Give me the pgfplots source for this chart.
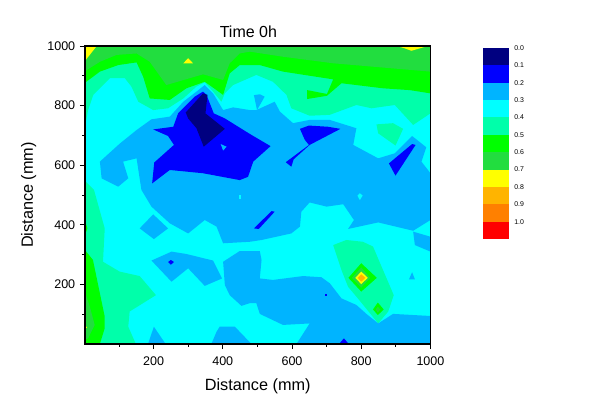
\documentclass[border=0pt]{standalone}
\usepackage{fontspec}
\setmainfont{Liberation Sans}
\usepackage{pgfplots}
\pgfplotsset{compat=1.18}
\definecolor{cNavy}{HTML}{000080}
\definecolor{cBlue}{HTML}{0000FF}
\definecolor{cAzure}{HTML}{00B4FF}
\definecolor{cCyan}{HTML}{00FFFF}
\definecolor{cSpring}{HTML}{00FFAA}
\definecolor{cGreen}{HTML}{00FF00}
\definecolor{cDark}{HTML}{22DD3F}
\definecolor{cYellow}{HTML}{FFFF00}
\definecolor{cAmber}{HTML}{FFB400}
\definecolor{cOrange}{HTML}{FF8000}
\definecolor{cRed}{HTML}{FF0000}
\begin{document}
\begin{tikzpicture}
\path[use as bounding box] (0,0) rectangle (455.25pt,313.5pt);
\begin{axis}[
  at={(63.75pt,55.5pt)}, anchor=south west,
  scale only axis, width=259.1pt, height=223.5pt,
  xmin=2, xmax=1000, ymin=0, ymax=1000,
  axis on top,
  tick pos=left,
  axis line style={line width=1pt},
  xtick={200,400,600,800,1000}, ytick={200,400,600,800,1000},
  minor xtick={100,300,500,700,900}, minor ytick={100,300,500,700,900},
  tick align=outside, tick style={black, line width=0.6pt},
  major tick length=3.8pt, minor tick length=2.2pt,
  /pgf/number format/assume math mode=true,
  /pgf/number format/1000 sep={},
  tick label style={font=\fontsize{9.4}{11}\selectfont},
  xticklabel style={yshift=-2.5pt},
  xlabel={Distance (mm)}, ylabel={Distance (mm)},
  xlabel style={yshift=-2.5pt},
  ylabel style={yshift=1.5pt},
  label style={font=\fontsize{12.2}{14}\selectfont},
  title={Time 0h},
  title style={font=\fontsize{12}{14}\selectfont, at={(axis description cs:0.473,1)}, yshift=-3pt},
  clip=true,
]
% base level 0.3-0.4
\addplot[fill=cCyan,draw=none] coordinates {(0,0)(1000,0)(1000,1000)(0,1000)} --cycle;
% 0.4-0.5
\addplot[fill=cSpring,draw=none] coordinates {(0,718)(11,785)(26,836)(74,892)(117,892)(136,864)(156,813)(199,785)(242,791)(286,824)(324,864)(348,878)(372,847)(396,813)(406,841)(430,869)(497,903)(545,880)(584,836)(598,791)(651,766)(709,769)(786,802)(830,791)(897,802)(950,735)(1000,774)(1000,1000)(0,1000)} --cycle;
\addplot[fill=cSpring,draw=none] coordinates {(0,550)(28,517)(59,388)(54,276)(102,243)(160,228)(207,164)(131,109)(127,58)(149,0)(0,0)} --cycle;
\addplot[fill=cSpring,draw=none] coordinates {(719,332)(757,349)(805,343)(834,327)(894,164)(878,109)(849,69)(810,125)(786,159)(762,192)(743,248)} --cycle;
\addplot[fill=cSpring,draw=none] coordinates {(844,737)(892,741)(921,722)(899,666)(849,707)} --cycle;
% 0.5-0.6
\addplot[fill=cGreen,draw=none] coordinates {(0,875)(45,914)(98,936)(151,945)(170,897)(189,824)(247,819)(295,858)(348,880)(401,836)(420,908)(449,936)(478,936)(507,936)(574,914)(719,888)(701,839)(644,852)(644,822)(701,833)(743,875)(863,858)(940,852)(1000,841)(1000,1000)(0,1000)} --cycle;
\addplot[fill=cGreen,draw=none] coordinates {(0,422)(9,388)(0,360)} --cycle;
\addplot[fill=cGreen,draw=none] coordinates {(0,318)(25,282)(40,198)(59,92)(59,53)(45,0)(0,0)} --cycle;
\addplot[fill=cGreen,draw=none] coordinates {(800,271)(845,222)(800,176)(763,222)} --cycle;
\addplot[fill=cGreen,draw=none] coordinates {(848,139)(865,116)(848,97)(834,116)} --cycle;
% 0.6-0.7
\addplot[fill=cDark,draw=none] coordinates {(0,914)(45,947)(93,970)(151,975)(189,947)(237,869)(343,905)(401,886)(420,942)(449,975)(478,981)(574,964)(719,942)(1000,914)(1000,1000)(0,1000)} --cycle;
\addplot[fill=cDark,draw=none] coordinates {(0,181)(16,125)(30,64)(11,19)(0,13)} --cycle;
\addplot[fill=cDark,draw=none] coordinates {(800,257)(826,222)(800,189)(773,222)} --cycle;
\addplot[fill=cDark,draw=none] coordinates {(848,125)(855,116)(848,105)(842,116)} --cycle;
% 0.7-0.8
\addplot[fill=cYellow,draw=none] coordinates {(0,1000)(36,1000)(0,947)} --cycle;
\addplot[fill=cYellow,draw=none] coordinates {(300,959)(314,942)(286,942)} --cycle;
\addplot[fill=cYellow,draw=none] coordinates {(902,1000)(993,1000)(969,992)(945,984)(926,992)} --cycle;
\addplot[fill=cYellow,draw=none] coordinates {(0,64)(8,56)(0,47)} --cycle;
\addplot[fill=cYellow,draw=none] coordinates {(800,243)(819,222)(800,201)(783,222)} --cycle;
% 0.8-0.9
\addplot[fill=cAmber,draw=none] coordinates {(800,234)(812,222)(800,209)(790,222)} --cycle;
% 0.2-0.3
\addplot[fill=cAzure,draw=none] coordinates {(45,612)(103,673)(151,718)(194,754)(247,763)(286,813)(324,847)(348,869)(372,841)(401,785)(430,794)(478,785)(497,785)(550,813)(565,780)(603,741)(651,752)(709,752)(786,724)(777,668)(849,623)(897,640)(947,698)(988,660)(974,612)(1000,573)(1000,416)(950,380)(849,408)(762,386)(779,416)(748,469)(700,461)(651,475)(627,444)(623,394)(598,371)(512,349)(478,343)(401,338)(382,394)(348,416)(300,371)(247,405)(194,461)(165,517)(151,623)(112,612)(127,556)(98,528)(50,556)} --cycle;
\addplot[fill=cAzure,draw=none] coordinates {(950,377)(955,332)(1000,310)(1000,360)} --cycle;
\addplot[fill=cAzure,draw=none] coordinates {(199,435)(242,388)(201,352)(160,388)} --cycle;
\addplot[fill=cAzure,draw=none] coordinates {(252,310)(295,302)(372,280)(398,220)(348,195)(300,254)(252,209)(194,280)} --cycle;
\addplot[fill=cAzure,draw=none] coordinates {(401,276)(449,312)(507,312)(512,282)(507,220)(545,215)(632,228)(685,224)(709,204)(743,153)(786,131)(815,101)(849,69)(892,101)(1000,94)(1000,0)(613,0)(651,69)(574,64)(507,101)(497,137)(478,137)(454,128)(420,164)(406,198)} --cycle;
\addplot[fill=cAzure,draw=none] coordinates {(201,58)(235,0)(184,0)} --cycle;
\addplot[fill=cAzure,draw=none] coordinates {(391,58)(435,58)(483,0)(367,0)(382,41)} --cycle;
\addplot[fill=cAzure,draw=none] coordinates {(947,241)(955,217)(938,217)} --cycle;
\addplot[fill=cAzure,draw=none] coordinates {(490,835)(507,838)(521,830)(499,785)} --cycle;
% 0.1-0.2
\addplot[fill=cBlue,draw=none] coordinates {(199,720)(242,698)(259,668)(202,609)(196,539)(247,584)(343,573)(449,550)(473,561)(488,612)(538,664)(478,705)(406,757)(374,774)(353,836)(343,847)(319,830)(271,774)(257,729)} --cycle;
\addplot[fill=cBlue,draw=none] coordinates {(623,722)(649,733)(704,729)(740,722)(651,668)(605,620)(598,595)(582,610)(649,668)(637,685)} --cycle;
\addplot[fill=cBlue,draw=none] coordinates {(880,606)(947,671)(957,668)(899,565)} --cycle;
\addplot[fill=cBlue,draw=none] coordinates {(490,388)(541,446)(550,444)(504,386)} --cycle;
\addplot[fill=cBlue,draw=none] coordinates {(250,282)(259,275)(250,266)(242,275)} --cycle;
\addplot[fill=cBlue,draw=none] coordinates {(695,167)(701,167)(701,160)(695,160)} --cycle;
\addplot[fill=cBlue,draw=none] coordinates {(750,19)(764,0)(736,0)} --cycle;
% holes
\addplot[fill=cAzure,draw=none] coordinates {(394,671)(411,662)(401,649)} --cycle;
\addplot[fill=cCyan,draw=none] coordinates {(446,500)(452,500)(452,487)(446,487)} --cycle;
\addplot[fill=cCyan,draw=none] coordinates {(796,506)(804,498)(796,483)(789,498)} --cycle;
% 0.0-0.1
\addplot[fill=cNavy,draw=none] coordinates {(293,777)(343,841)(356,836)(350,774)(406,722)(345,662)(324,724)(300,757)} --cycle;
\end{axis}
\begin{axis}[
  at={(362.25pt,134.25pt)}, anchor=south west,
  scale only axis, width=19.5pt, height=143.25pt,
  xmin=0, xmax=1, ymin=0, ymax=11, y dir=reverse,
  axis line style={draw=none},
  xtick=\empty,
  ytick={0,1,2,3,4,5,6,7,8,9,10},
  yticklabels={0.0,0.1,0.2,0.3,0.4,0.5,0.6,0.7,0.8,0.9,1.0},
  yticklabel pos=right,
  tick style={draw=none},
  yticklabel style={font=\fontsize{5.2}{6}\selectfont, xshift=0.5pt},
]
\addplot[fill=cNavy,draw=none] coordinates {(0,0)(1,0)(1,1)(0,1)} --cycle;
\addplot[fill=cBlue,draw=none] coordinates {(0,1)(1,1)(1,2)(0,2)} --cycle;
\addplot[fill=cAzure,draw=none] coordinates {(0,2)(1,2)(1,3)(0,3)} --cycle;
\addplot[fill=cCyan,draw=none] coordinates {(0,3)(1,3)(1,4)(0,4)} --cycle;
\addplot[fill=cSpring,draw=none] coordinates {(0,4)(1,4)(1,5)(0,5)} --cycle;
\addplot[fill=cGreen,draw=none] coordinates {(0,5)(1,5)(1,6)(0,6)} --cycle;
\addplot[fill=cDark,draw=none] coordinates {(0,6)(1,6)(1,7)(0,7)} --cycle;
\addplot[fill=cYellow,draw=none] coordinates {(0,7)(1,7)(1,8)(0,8)} --cycle;
\addplot[fill=cAmber,draw=none] coordinates {(0,8)(1,8)(1,9)(0,9)} --cycle;
\addplot[fill=cOrange,draw=none] coordinates {(0,9)(1,9)(1,10)(0,10)} --cycle;
\addplot[fill=cRed,draw=none] coordinates {(0,10)(1,10)(1,11)(0,11)} --cycle;
\end{axis}
\end{tikzpicture}
\end{document}
